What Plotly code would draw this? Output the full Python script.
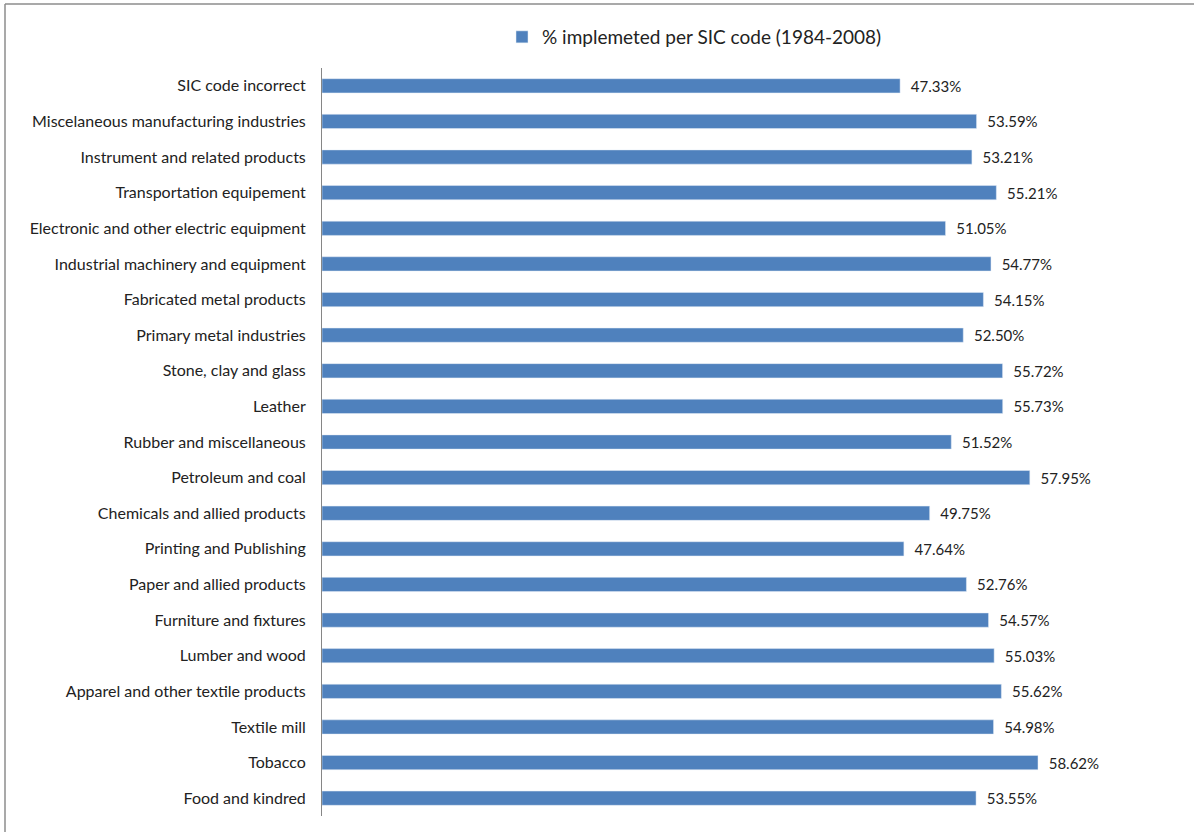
import plotly.graph_objects as go

categories = [
    "Food and kindred", "Tobacco", "Textile mill", "Apparel and other textile products",
    "Lumber and wood", "Furniture and fixtures", "Paper and allied products",
    "Printing and Publishing", "Chemicals and allied products", "Petroleum and coal",
    "Rubber and miscellaneous", "Leather", "Stone, clay and glass", "Primary metal industries",
    "Fabricated metal products", "Industrial machinery and equipment",
    "Electronic and other electric equipment", "Transportation equipement",
    "Instrument and related products", "Miscelaneous manufacturing industries",
    "SIC code incorrect",
]
values = [53.55, 58.62, 54.98, 55.62, 55.03, 54.57, 52.76, 47.64, 49.75, 57.95,
          51.52, 55.73, 55.72, 52.50, 54.15, 54.77, 51.05, 55.21, 53.21, 53.59, 47.33]
series_name = "% implemeted per SIC code (1984-2008)"

W, H = 1194, 832
left, right, top, bottom = 322, 1177, 68, 816

fig = go.Figure(go.Bar(
    y=categories, x=values, orientation="h", name=series_name,
    marker=dict(color="#4F81BD"),
    texttemplate="  %{x:.2f}%", textposition="outside", constraintext="none",
    textfont=dict(family="Lato", size=15, color="#222222"),
    cliponaxis=False, showlegend=True,
))

pw, ph = right - left, bottom - top
def px(x): return (x - left) / pw
def py(y): return (bottom - y) / ph

fig.update_layout(
    width=W, height=H,
    margin=dict(l=left, r=W - right, t=top, b=H - bottom),
    plot_bgcolor="white", paper_bgcolor="white",
    bargap=0.6,
    font=dict(family="Lato", size=15, color="#222222"),
    legend=dict(orientation="h", x=px(502), xanchor="left", y=py(37), yanchor="middle",
                itemwidth=30,
                font=dict(family="Lato", size=19, color="#222222")),
    xaxis=dict(range=[0, 70], visible=False, showgrid=False),
    yaxis=dict(categoryorder="array", categoryarray=categories, range=[-0.5, 20.5],
               showline=True, linecolor="#868686", linewidth=1, ticks="",
               showgrid=False, ticklabelstandoff=12,
               tickfont=dict(family="Lato", size=16, color="#222222")),
    shapes=[
        dict(type="line", xref="paper", yref="paper", x0=px(5), x1=px(W), y0=py(4), y1=py(4),
             line=dict(color="#8C8C8C", width=1.5)),
        dict(type="line", xref="paper", yref="paper", x0=px(5), x1=px(5), y0=py(4), y1=py(H + 5),
             line=dict(color="#8C8C8C", width=1.5)),
    ],
)

fig.write_html("out.html", config={"displayModeBar": False},
               post_script="document.body.style.margin='0';document.body.style.overflow='hidden';")
